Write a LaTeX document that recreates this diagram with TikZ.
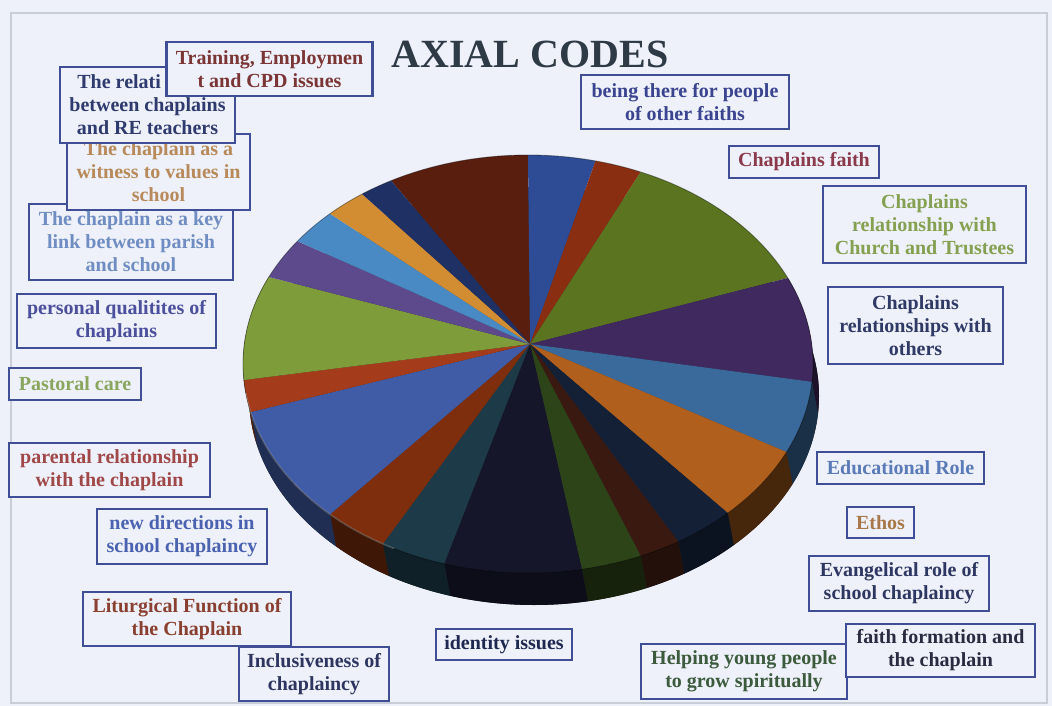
\documentclass[tikz,border=0pt]{standalone}
\usepackage{fontspec}
\setmainfont{Liberation Serif}
\usepackage{xcolor}
\definecolor{pagebg}{HTML}{EEF1F9}
\definecolor{framecolor}{HTML}{C9CDD8}
\definecolor{boxcolor}{HTML}{3F4E96}
\definecolor{titlecolor}{HTML}{2E3A46}
% dilim renkleri
\definecolor{slicedarkred}{HTML}{5A1E0E}
\definecolor{sliceblue}{HTML}{2E4C96}
\definecolor{slicered}{HTML}{8A2E12}
\definecolor{slicegreen}{HTML}{5A7420}
\definecolor{slicepurple}{HTML}{40295E}
\definecolor{slicesky}{HTML}{3A6A9C}
\definecolor{sliceorange}{HTML}{B0601C}
\definecolor{slicenavy}{HTML}{142036}
\definecolor{slicemaroon}{HTML}{3A1A10}
\definecolor{sliceolive}{HTML}{2C4418}
\definecolor{sliceink}{HTML}{16162A}
\definecolor{sliceteal}{HTML}{1C3A48}
\definecolor{slicerust}{HTML}{7E2E0C}
\definecolor{slicebluetwo}{HTML}{405CA6}
\definecolor{sliceredtwo}{HTML}{A43C1C}
\definecolor{slicegreentwo}{HTML}{7E9C3A}
\definecolor{slicepurpletwo}{HTML}{5C4A8C}
\definecolor{sliceskytwo}{HTML}{4A8AC4}
\definecolor{sliceorangetwo}{HTML}{D28C32}
\definecolor{slicenavytwo}{HTML}{1E3064}
% kutu yazi renkleri
\definecolor{trainingtext}{HTML}{7B3535}
\definecolor{relationtext}{HTML}{2F3A6E}
\definecolor{witnesstext}{HTML}{B8895A}
\definecolor{keylinktext}{HTML}{6F8DC2}
\definecolor{personaltext}{HTML}{4B4F9C}
\definecolor{pastoraltext}{HTML}{8AA65E}
\definecolor{parentaltext}{HTML}{A04848}
\definecolor{newdirtext}{HTML}{4A62B0}
\definecolor{liturgytext}{HTML}{8A4030}
\definecolor{inclusivetext}{HTML}{2E3560}
\definecolor{identitytext}{HTML}{1E2850}
\definecolor{helpingtext}{HTML}{3C5A3C}
\definecolor{formationtext}{HTML}{2A2A40}
\definecolor{evangeltext}{HTML}{2E3662}
\definecolor{ethostext}{HTML}{A8784A}
\definecolor{eductext}{HTML}{5A7AB8}
\definecolor{otherstext}{HTML}{303A66}
\definecolor{trusteestext}{HTML}{84A050}
\definecolor{faithtext}{HTML}{8A3A4A}
\definecolor{otherfaithstext}{HTML}{3A4490}
\usepackage{tikz}

\begin{document}
\begin{tikzpicture}[x=0.75pt, y=-0.75pt,
    pie/.style={x radius=285, y radius=209},
    codebox/.style={draw=boxcolor, line width=1.6pt, fill=pagebg, align=center,
      inner sep=0pt, font=\bfseries\fontsize{15}{17.25}\selectfont}]
  % zemin
  \fill[pagebg] (0,0) rectangle (1052,706);
  \draw[framecolor, line width=0.8pt] (11,13) rectangle (1047,703);
  \useasboundingbox (0,0) rectangle (1052,706);
  % baslik
  \node[anchor=base, titlecolor, font=\bfseries\fontsize{30}{36}\selectfont] (title) at (530,68) {AXIAL CODES};
  % pasta
  \begin{scope}[shift={(528,364)}]
    \coordinate (apex) at (2,-20);
    % yan yuz
    \fill[black!85] (6,32) ellipse [pie];
    \fill[slicepurple!45!black] (-24.3:285 and 209) arc[pie, start angle=-24.3, end angle=4.9] -- ++(6,32) arc[pie, start angle=4.9, end angle=-24.3] -- cycle;
    \fill[slicesky!45!black] (4.9:285 and 209) arc[pie, start angle=4.9, end angle=24.9] -- ++(6,32) arc[pie, start angle=24.9, end angle=4.9] -- cycle;
    \fill[sliceorange!40!black] (24.9:285 and 209) arc[pie, start angle=24.9, end angle=45.5] -- ++(6,32) arc[pie, start angle=45.5, end angle=24.9] -- cycle;
    \fill[slicenavy!60!black] (45.5:285 and 209) arc[pie, start angle=45.5, end angle=58.2] -- ++(6,32) arc[pie, start angle=58.2, end angle=45.5] -- cycle;
    \fill[slicemaroon!60!black] (58.2:285 and 209) arc[pie, start angle=58.2, end angle=66.7] -- ++(6,32) arc[pie, start angle=66.7, end angle=58.2] -- cycle;
    \fill[sliceolive!50!black] (66.7:285 and 209) arc[pie, start angle=66.7, end angle=79.1] -- ++(6,32) arc[pie, start angle=79.1, end angle=66.7] -- cycle;
    \fill[sliceink!60!black] (79.1:285 and 209) arc[pie, start angle=79.1, end angle=107.1] -- ++(6,32) arc[pie, start angle=107.1, end angle=79.1] -- cycle;
    \fill[sliceteal!55!black] (107.1:285 and 209) arc[pie, start angle=107.1, end angle=120.6] -- ++(6,32) arc[pie, start angle=120.6, end angle=107.1] -- cycle;
    \fill[slicerust!50!black] (120.6:285 and 209) arc[pie, start angle=120.6, end angle=134] -- ++(6,32) arc[pie, start angle=134, end angle=120.6] -- cycle;
    \fill[slicebluetwo!50!black] (134:285 and 209) arc[pie, start angle=134, end angle=166.7] -- ++(6,32) arc[pie, start angle=166.7, end angle=134] -- cycle;
    \fill[sliceredtwo!50!black] (166.7:285 and 209) arc[pie, start angle=166.7, end angle=175.6] -- ++(6,32) arc[pie, start angle=175.6, end angle=166.7] -- cycle;
    \fill[slicegreentwo!50!black] (175.6:285 and 209) arc[pie, start angle=175.6, end angle=204.6] -- ++(6,32) arc[pie, start angle=204.6, end angle=175.6] -- cycle;
    % ust yuz
    \fill[slicedarkred] (apex) -- (241.3:285 and 209) arc[pie, start angle=241.3, end angle=270] -- cycle;
    \fill[sliceblue] (apex) -- (-90:285 and 209) arc[pie, start angle=-90, end angle=-76.3] -- cycle;
    \fill[slicered] (apex) -- (-76.3:285 and 209) arc[pie, start angle=-76.3, end angle=-66.7] -- cycle;
    \fill[slicegreen] (apex) -- (-66.7:285 and 209) arc[pie, start angle=-66.7, end angle=-24.3] -- cycle;
    \fill[slicepurple] (apex) -- (-24.3:285 and 209) arc[pie, start angle=-24.3, end angle=4.9] -- cycle;
    \fill[slicesky] (apex) -- (4.9:285 and 209) arc[pie, start angle=4.9, end angle=24.9] -- cycle;
    \fill[sliceorange] (apex) -- (24.9:285 and 209) arc[pie, start angle=24.9, end angle=45.5] -- cycle;
    \fill[slicenavy] (apex) -- (45.5:285 and 209) arc[pie, start angle=45.5, end angle=58.2] -- cycle;
    \fill[slicemaroon] (apex) -- (58.2:285 and 209) arc[pie, start angle=58.2, end angle=66.7] -- cycle;
    \fill[sliceolive] (apex) -- (66.7:285 and 209) arc[pie, start angle=66.7, end angle=79.1] -- cycle;
    \fill[sliceink] (apex) -- (79.1:285 and 209) arc[pie, start angle=79.1, end angle=107.1] -- cycle;
    \fill[sliceteal] (apex) -- (107.1:285 and 209) arc[pie, start angle=107.1, end angle=120.6] -- cycle;
    \fill[slicerust] (apex) -- (120.6:285 and 209) arc[pie, start angle=120.6, end angle=134] -- cycle;
    \fill[slicebluetwo] (apex) -- (134:285 and 209) arc[pie, start angle=134, end angle=166.7] -- cycle;
    \fill[sliceredtwo] (apex) -- (166.7:285 and 209) arc[pie, start angle=166.7, end angle=175.6] -- cycle;
    \fill[slicegreentwo] (apex) -- (175.6:285 and 209) arc[pie, start angle=175.6, end angle=204.6] -- cycle;
    \fill[slicepurpletwo] (apex) -- (204.6:285 and 209) arc[pie, start angle=204.6, end angle=216] -- cycle;
    \fill[sliceskytwo] (apex) -- (216:285 and 209) arc[pie, start angle=216, end angle=226] -- cycle;
    \fill[sliceorangetwo] (apex) -- (226:285 and 209) arc[pie, start angle=226, end angle=234.4] -- cycle;
    \fill[slicenavytwo] (apex) -- (234.4:285 and 209) arc[pie, start angle=234.4, end angle=241.3] -- cycle;
    % kenar parlakligi
    \draw[white, opacity=0.35, line width=1pt] (118:285 and 209) arc[pie, start angle=118, end angle=172];
    \draw[black, opacity=0.4, line width=0.6pt] (0,0) ellipse [pie];
  \end{scope}
  % etiket kutulari (ust uste binenler once)
  \node[codebox, text=keylinktext, minimum width=153pt, minimum height=57pt] (keylink) at (131,242) {The chaplain as a key\\link between parish\\and school};
  \node[codebox, text=witnesstext, minimum width=137.25pt, minimum height=57pt] (witness) at (158.5,172) {The chaplain as a\\witness to values in\\school};
  \node[codebox, text=relationtext, minimum width=131.25pt, minimum height=57pt] (relation) at (147.5,105) {The relati\phantom{onship}\\between chaplains\\and RE teachers};
  \node[codebox, text=trainingtext, minimum width=154.5pt, minimum height=40.5pt] (training) at (269.5,69) {Training, Employmen\\t and CPD issues};
  \node[codebox, text=personaltext, minimum width=149.25pt, minimum height=40.5pt] (personal) at (116.5,321) {personal qualitites of\\chaplains};
  \node[codebox, text=pastoraltext, minimum width=99pt, minimum height=24pt] (pastoral) at (75,384) {Pastoral care};
  \node[codebox, text=parentaltext, minimum width=150.75pt, minimum height=40.5pt] (parental) at (109.5,470) {parental relationship\\with the chaplain};
  \node[codebox, text=newdirtext, minimum width=127.5pt, minimum height=41.25pt] (newdir) at (182,536.5) {new directions in\\school chaplaincy};
  \node[codebox, text=liturgytext, minimum width=156pt, minimum height=40.5pt] (liturgy) at (187,619) {Liturgical Function of\\the Chaplain};
  \node[codebox, text=inclusivetext, minimum width=112.5pt, minimum height=40.5pt] (inclusive) at (314,674) {Inclusiveness of\\chaplaincy};
  \node[codebox, text=identitytext, minimum width=102pt, minimum height=23.25pt] (identity) at (504,644.5) {identity issues};
  \node[codebox, text=helpingtext, minimum width=154.5pt, minimum height=41.25pt] (helping) at (744,671.5) {Helping young people\\to grow spiritually};
  \node[codebox, text=formationtext, minimum width=141.75pt, minimum height=39.75pt] (formation) at (940.5,650.5) {faith formation and\\the chaplain};
  \node[codebox, text=evangeltext, minimum width=135pt, minimum height=41.25pt] (evangel) at (899,583.5) {Evangelical role of\\school chaplaincy};
  \node[codebox, text=ethostext, minimum width=50.25pt, minimum height=23.25pt] (ethos) at (880.5,522.5) {Ethos};
  \node[codebox, text=eductext, minimum width=125.25pt, minimum height=24pt] (educ) at (900.5,468) {Educational Role};
  \node[codebox, text=otherstext, minimum width=131.25pt, minimum height=57.75pt] (others) at (915.5,325.5) {Chaplains\\relationships with\\others};
  \node[codebox, text=trusteestext, minimum width=152.25pt, minimum height=57.75pt] (trustees) at (924.5,224.5) {Chaplains\\relationship with\\Church and Trustees};
  \node[codebox, text=faithtext, minimum width=112.5pt, minimum height=24pt] (faith) at (804,162) {Chaplains faith};
  \node[codebox, text=otherfaithstext, minimum width=156pt, minimum height=40.5pt] (otherfaiths) at (685,102) {being there for people\\of other faiths};
\end{tikzpicture}
\end{document}
